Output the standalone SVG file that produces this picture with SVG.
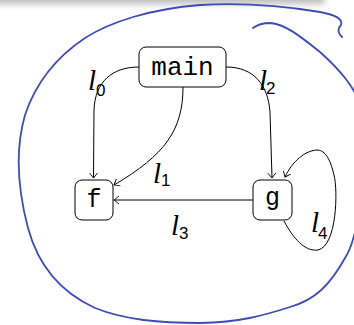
<svg xmlns="http://www.w3.org/2000/svg" width="354" height="325" viewBox="0 0 354 325">
  <defs>
    <filter id="soft" x="-20%" y="-200%" width="140%" height="500%">
      <feGaussianBlur stdDeviation="3"/>
    </filter>
    <marker id="tip" viewBox="-6 -5 7 10" markerWidth="7" markerHeight="10" refX="0" refY="0" orient="auto" markerUnits="userSpaceOnUse">
      <path d="M-5,-4 Q-1.5,-1.2 0,0 Q-1.5,1.2 -5,4" fill="none" stroke="#000" stroke-width="0.9"/>
    </marker>
  </defs>
  <style>
    .node rect { fill: #fff; stroke: #000; stroke-width: 1; }
    .node text { font-family: "Liberation Mono", "DejaVu Sans Mono", monospace; text-anchor: middle; fill: #000; }
    .edge { fill: none; stroke: #000; stroke-width: 1; marker-end: url(#tip); }
    .lab { font-family: "Liberation Serif", serif; font-style: italic; font-size: 29px; fill: #000; }
    .sub { font-family: "Liberation Sans", "DejaVu Sans", sans-serif; font-size: 17px; fill: #000; }
    .ink { fill: none; stroke: #3d4db3; stroke-width: 1.8; stroke-linecap: round; stroke-linejoin: round; }
  </style>

  <rect width="354" height="325" fill="#fff"/>
  <!-- soft band along the top edge -->
  <rect x="-20" y="-12" width="345" height="16" fill="#bdbdbd" filter="url(#soft)"/>

  <!-- freehand loop drawn round the graph -->
  <path class="ink" d="M342,37 C338,33 337,29 341,25 C343,19 336,15 320,12 C290,7 250,2 200,5 C150,9 110,22 85,38 C55,58 35,85 25,115 C15,150 18,190 28,228 C38,265 60,292 95,308 C125,320 160,323 200,323 C240,322 262,316 290,307 C315,300 330,285 345,258 C360,235 368,160 362,110 C356,88 340,70 320,52 C300,36 285,24 270,23 C262,23 257,25 253,28"/>

  <g id="edges">
    <path id="e-l0" class="edge" d="M139,67 C112,67 95,82 94,110 L93.5,178"/>
    <path id="e-l1" class="edge" d="M183,87 C183,130 165,155 114,185"/>
    <path id="e-l2" class="edge" d="M226,67 C254,67 268,85 270,112 L272,178"/>
    <path id="e-l3" class="edge" d="M253,200 L114,200"/>
    <path id="e-l4" class="edge" d="M284,221 C293,238 305,252 318,250 C337,246 338,190 334,175 C330,158 325,151 318,150 C305,150 292,162 285,177"/>
  </g>

  <g id="labels">
    <text class="lab" x="88" y="90">l</text><text class="sub" x="96" y="96">0</text>
    <text class="lab" x="153" y="183">l</text><text class="sub" x="161" y="186">1</text>
    <text class="lab" x="259" y="90">l</text><text class="sub" x="266" y="94">2</text>
    <text class="lab" x="171" y="235">l</text><text class="sub" x="179" y="239">3</text>
    <text class="lab" x="311" y="232">l</text><text class="sub" x="318" y="239">4</text>
  </g>

  <g id="main" class="node">
    <rect x="139" y="47" width="87" height="40" rx="7"/>
    <text x="182.5" y="75" font-size="26">main</text>
  </g>
  <g id="f" class="node">
    <rect x="75" y="180" width="38" height="40" rx="7"/>
    <text x="94" y="207" font-size="25">f</text>
  </g>
  <g id="g" class="node">
    <rect x="253" y="180" width="39" height="40" rx="7"/>
    <text x="272.5" y="205" font-size="25">g</text>
  </g>
</svg>
